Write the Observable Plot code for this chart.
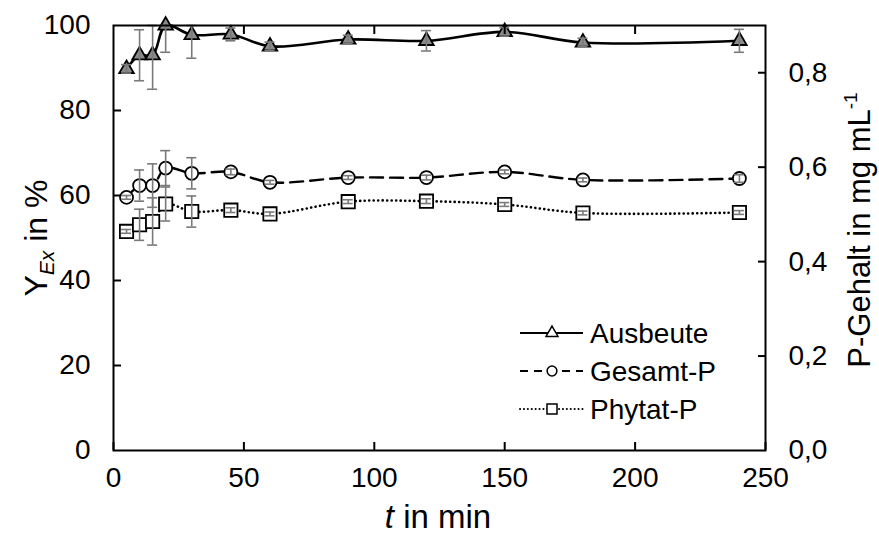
<!DOCTYPE html>
<html>
<head>
<meta charset="utf-8">
<script src="https://cdn.jsdelivr.net/npm/d3@7"></script>
<script src="https://cdn.jsdelivr.net/npm/@observablehq/plot@0.6"></script>
<style>
  html, body { margin: 0; padding: 0; background: #fff; }
  #chart svg { display: block; }
</style>
</head>
<body>
<div id="chart"></div>
<script>
// ---- data ----
const times = [5, 10, 15, 20, 30, 45, 60, 90, 120, 150, 180, 240];
const ausbeute    = [89.8, 93.0, 93.0, 100.0, 97.8, 97.9, 95.1, 96.7, 96.4, 98.5, 96.0, 96.4];
const ausbeuteErr = [1.0, 6.0, 8.0, 6.3, 5.5, 1.5, 1.0, 1.0, 2.4, 1.0, 1.0, 2.7];
const gesamtP     = [0.536, 0.561, 0.561, 0.598, 0.587, 0.590, 0.568, 0.578, 0.578, 0.590, 0.573, 0.576];
const gesamtErr   = [0.004, 0.033, 0.046, 0.037, 0.033, 0.006, 0.004, 0.004, 0.005, 0.004, 0.004, 0.008];
const phytatP     = [0.464, 0.478, 0.485, 0.522, 0.506, 0.509, 0.501, 0.527, 0.528, 0.521, 0.503, 0.504];
const phytatErr   = [0.004, 0.033, 0.050, 0.036, 0.033, 0.005, 0.004, 0.004, 0.005, 0.004, 0.004, 0.004];
const xTicks = [0, 50, 100, 150, 200, 250];
const yTicks = [0, 20, 40, 60, 80, 100];
const pTicks = [0, 0.2, 0.4, 0.6, 0.8];
const pMax = 0.9;   // right axis maximum (mg/mL) aligned with 100 %

const toLeft = p => p * 100 / pMax;
const commaFmt = d => d3.format(".1f")(d).replace(".", ",");

const A = times.map((t, i) => ({t, y: ausbeute[i], lo: ausbeute[i] - ausbeuteErr[i], hi: Math.min(100, ausbeute[i] + ausbeuteErr[i])}));
const G = times.map((t, i) => ({t, y: toLeft(gesamtP[i]), lo: toLeft(gesamtP[i] - gesamtErr[i]), hi: toLeft(gesamtP[i] + gesamtErr[i])}));
const P = times.map((t, i) => ({t, y: toLeft(phytatP[i]), lo: toLeft(phytatP[i] - phytatErr[i]), hi: toLeft(phytatP[i] + phytatErr[i])}));

const font = "'Liberation Sans', Arial, sans-serif";
const errColor = "#7a7a7a";

function errBars(data) {
  return [
    Plot.ruleX(data, {x: "t", y1: "lo", y2: "hi", stroke: errColor, strokeWidth: 1.6}),
    Plot.ruleY(data, {y: "lo", x1: "t", x2: "t", insetLeft: -5, insetRight: -5, stroke: errColor, strokeWidth: 1.6}),
    Plot.ruleY(data, {y: "hi", x1: "t", x2: "t", insetLeft: -5, insetRight: -5, stroke: errColor, strokeWidth: 1.6})
  ];
}

const chart = Plot.plot({
  width: 879,
  height: 543,
  marginLeft: 113,
  marginRight: 114,
  marginTop: 25,
  marginBottom: 93,
  style: {fontFamily: font, fontSize: "28px", color: "#000", background: "#fff"},
  x: {domain: [0, 250]},
  y: {domain: [0, 100]},
  marks: [
    // lines
    Plot.line(P, {x: "t", y: "y", curve: "catmull-rom", stroke: "#000", strokeWidth: 2.6, strokeDasharray: "0.1 4.4", strokeLinecap: "round"}),
    Plot.line(G, {x: "t", y: "y", curve: "catmull-rom", stroke: "#000", strokeWidth: 2.4, strokeDasharray: "13 7"}),
    Plot.line(A, {x: "t", y: "y", curve: "catmull-rom", stroke: "#000", strokeWidth: 2.6}),
    // markers
    Plot.dot(P, {x: "t", y: "y", symbol: "square", r: 7.5, fill: "#fff", stroke: "#000", strokeWidth: 1.8}),
    Plot.dot(G, {x: "t", y: "y", symbol: "circle", r: 6.5, fill: "#fff", stroke: "#000", strokeWidth: 1.8}),
    Plot.dot(A, {x: "t", y: "y", symbol: "triangle", r: 5.4, fill: "#8a8a8a", stroke: "#000", strokeWidth: 1.8}),
    // error bars
    ...errBars(P),
    ...errBars(G),
    ...errBars(A),
    // frame
    Plot.frame({stroke: "#000", strokeWidth: 2}),
    // inward ticks
    Plot.axisX(xTicks, {anchor: "bottom", tickSize: 8, dy: -8, fill: "none", label: null, strokeWidth: 2}),
    Plot.axisX(xTicks.slice(1, -1), {anchor: "top", tickSize: 8, dy: 8, fill: "none", label: null, strokeWidth: 2}),
    Plot.axisY(yTicks.slice(1, -1), {anchor: "left", tickSize: 8, dx: 8, fill: "none", label: null, strokeWidth: 2}),
    Plot.axisY(pTicks.slice(1).map(toLeft), {anchor: "right", tickSize: 8, dx: -8, fill: "none", label: null, strokeWidth: 2}),
    // tick labels
    Plot.axisX(xTicks, {anchor: "bottom", tickSize: 0, tickPadding: 17, stroke: "none", label: null, fontSize: 28}),
    Plot.axisY(yTicks, {anchor: "left", tickSize: 0, tickPadding: 23, stroke: "none", label: null, fontSize: 28}),
    Plot.axisY(pTicks.map(toLeft), {anchor: "right", tickSize: 0, tickPadding: 23, stroke: "none", label: null, fontSize: 28,
      tickFormat: d => commaFmt(d * pMax / 100)})
  ]
});

document.getElementById("chart").appendChild(chart);

// ---- axis titles & legend (real SVG text) ----
const svg = d3.select(chart);
const g = svg.append("g").attr("font-family", font).attr("fill", "#000");

// left title
const lt = g.append("text")
  .attr("transform", "translate(47,238) rotate(-90)")
  .attr("text-anchor", "middle")
  .attr("font-size", 32);
lt.append("tspan").text("Y");
lt.append("tspan").attr("font-style", "italic").attr("font-size", 21).attr("dy", 7).text("Ex");
lt.append("tspan").attr("dy", -7).text(" in %");

// right title
const rt = g.append("text")
  .attr("transform", "translate(870,230) rotate(-90)")
  .attr("text-anchor", "middle")
  .attr("font-size", 31);
rt.append("tspan").text("P-Gehalt in mg mL");
rt.append("tspan").attr("font-size", 19).attr("dy", -13).text("-1");

// bottom title
const bt = g.append("text")
  .attr("x", 438).attr("y", 528)
  .attr("text-anchor", "middle")
  .attr("font-size", 33);
bt.append("tspan").attr("font-style", "italic").text("t");
bt.append("tspan").text(" in min");

// legend
const legendItems = [
  {name: "Ausbeute", dash: null, symbol: d3.symbolTriangle, size: 62},
  {name: "Gesamt-P", dash: "8 6", symbol: d3.symbolCircle, size: 75},
  {name: "Phytat-P", dash: "0.1 3.8", symbol: d3.symbolSquare, size: 100}
];
const lg = svg.append("g");
legendItems.forEach((it, i) => {
  const y = 333 + i * 38;
  const line = lg.append("line").attr("x1", 520).attr("x2", 583).attr("y1", y).attr("y2", y)
    .attr("stroke", "#000").attr("stroke-width", 2);
  if (it.dash) line.attr("stroke-dasharray", it.dash).attr("stroke-linecap", it.name === "Phytat-P" ? "round" : "butt");
  lg.append("path").attr("d", d3.symbol(it.symbol, it.size)()).attr("transform", `translate(552,${y})`)
    .attr("fill", "#fff").attr("stroke", "#000").attr("stroke-width", 1.5);
  lg.append("text").attr("x", 590).attr("y", y).attr("dy", "0.35em")
    .attr("text-anchor", "start")
    .attr("font-family", font).attr("font-size", 28).attr("fill", "#000").text(it.name);
});
</script>
</body>
</html>
